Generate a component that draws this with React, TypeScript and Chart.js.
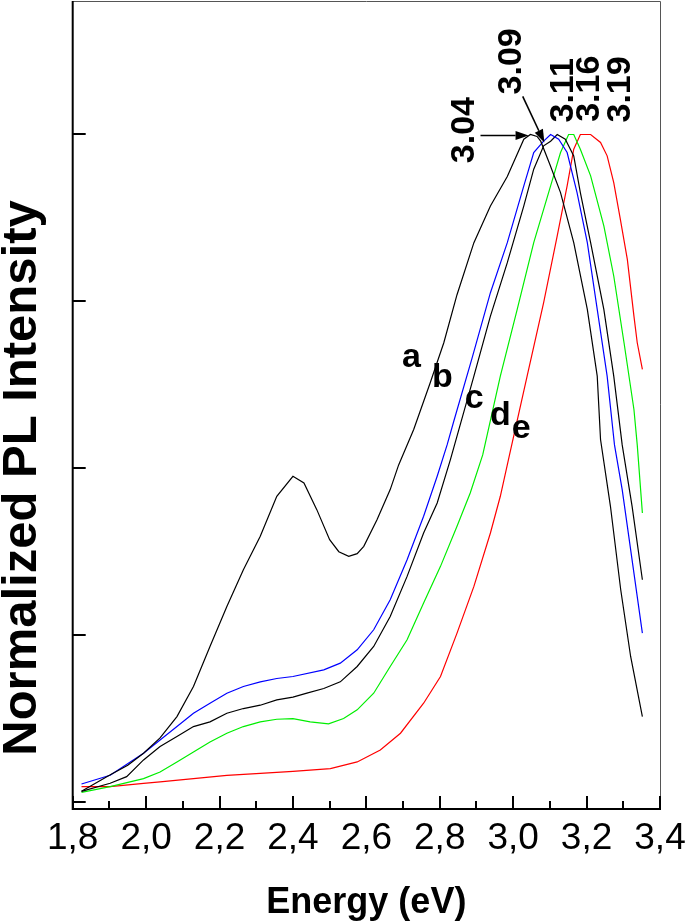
import React, { useEffect, useRef } from 'react';
import { Chart, registerables } from 'chart.js';

Chart.register(...registerables);

// ---- axis ticks ----
const xMajorTicks = [1.8, 2.0, 2.2, 2.4, 2.6, 2.8, 3.0, 3.2, 3.4];
const xMinorTicks = [1.9, 2.1, 2.3, 2.5, 2.7, 2.9, 3.1, 3.3];
const yTicks = [0, 0.25, 0.5, 0.75, 1.0];

// ---- series (energy in eV, normalized intensity) ----
const energyA = [1.824, 1.9, 1.95, 1.993, 2.038, 2.084, 2.129, 2.174, 2.22, 2.265, 2.311, 2.356, 2.4, 2.43, 2.465, 2.5, 2.525, 2.552, 2.575, 2.593, 2.629, 2.665, 2.688, 2.729, 2.774, 2.811, 2.847, 2.893, 2.938, 2.984, 3.029, 3.047, 3.065, 3.075, 3.1, 3.129, 3.165, 3.202, 3.229, 3.238, 3.265, 3.293, 3.32, 3.352];
const intensityA = [0.016, 0.04, 0.055, 0.073, 0.096, 0.128, 0.173, 0.233, 0.293, 0.348, 0.398, 0.458, 0.488, 0.478, 0.438, 0.393, 0.375, 0.368, 0.372, 0.383, 0.423, 0.468, 0.505, 0.558, 0.628, 0.688, 0.76, 0.838, 0.893, 0.937, 0.993, 1.0, 0.997, 0.99, 0.955, 0.913, 0.838, 0.738, 0.638, 0.543, 0.443, 0.318, 0.218, 0.128];

const energyB = [1.824, 1.902, 1.993, 2.038, 2.084, 2.129, 2.174, 2.22, 2.265, 2.311, 2.356, 2.4, 2.484, 2.529, 2.575, 2.62, 2.665, 2.711, 2.756, 2.793, 2.82, 2.838, 2.888, 2.938, 2.984, 3.029, 3.056, 3.083, 3.102, 3.124, 3.147, 3.174, 3.202, 3.229, 3.256, 3.276, 3.297, 3.32, 3.352];
const intensityB = [0.027, 0.04, 0.073, 0.093, 0.113, 0.133, 0.148, 0.163, 0.173, 0.18, 0.185, 0.188, 0.198, 0.208, 0.228, 0.258, 0.303, 0.363, 0.428, 0.488, 0.535, 0.57, 0.665, 0.763, 0.838, 0.923, 0.973, 0.99, 1.0, 0.993, 0.973, 0.913, 0.838, 0.738, 0.638, 0.535, 0.468, 0.378, 0.253];

const energyC = [1.824, 1.902, 1.947, 1.993, 2.038, 2.084, 2.129, 2.174, 2.22, 2.265, 2.311, 2.356, 2.4, 2.438, 2.484, 2.529, 2.575, 2.62, 2.665, 2.711, 2.756, 2.793, 2.829, 2.893, 2.938, 2.984, 3.029, 3.056, 3.083, 3.102, 3.12, 3.142, 3.165, 3.183, 3.211, 3.247, 3.274, 3.297, 3.324, 3.352];
const intensityC = [0.016, 0.028, 0.038, 0.063, 0.083, 0.098, 0.113, 0.12, 0.133, 0.14, 0.145, 0.153, 0.157, 0.163, 0.17, 0.18, 0.203, 0.233, 0.278, 0.338, 0.403, 0.448, 0.513, 0.638, 0.728, 0.808, 0.893, 0.948, 0.983, 0.99, 1.0, 0.993, 0.968, 0.913, 0.838, 0.738, 0.638, 0.535, 0.443, 0.333];

const energyD = [1.824, 1.902, 1.993, 2.038, 2.084, 2.129, 2.174, 2.22, 2.265, 2.311, 2.356, 2.4, 2.447, 2.497, 2.538, 2.575, 2.62, 2.665, 2.711, 2.756, 2.802, 2.847, 2.883, 2.917, 2.965, 3.011, 3.056, 3.102, 3.129, 3.151, 3.165, 3.183, 3.211, 3.247, 3.274, 3.302, 3.329, 3.338, 3.352];
const intensityD = [0.0145, 0.023, 0.035, 0.045, 0.06, 0.075, 0.09, 0.103, 0.113, 0.12, 0.124, 0.125, 0.12, 0.117, 0.125, 0.138, 0.163, 0.203, 0.243, 0.298, 0.353, 0.413, 0.463, 0.52, 0.638, 0.738, 0.838, 0.923, 0.973, 1.0, 1.0, 0.978, 0.938, 0.863, 0.788, 0.688, 0.588, 0.535, 0.433];

const energyE = [1.824, 1.902, 1.993, 2.038, 2.129, 2.22, 2.311, 2.4, 2.502, 2.575, 2.638, 2.693, 2.756, 2.802, 2.847, 2.893, 2.938, 2.965, 2.99, 3.038, 3.083, 3.12, 3.147, 3.165, 3.183, 3.211, 3.238, 3.256, 3.274, 3.292, 3.311, 3.329, 3.338, 3.352];
const intensityE = [0.023, 0.023, 0.028, 0.03, 0.035, 0.04, 0.043, 0.046, 0.05, 0.06, 0.078, 0.103, 0.148, 0.188, 0.253, 0.323, 0.403, 0.458, 0.52, 0.638, 0.748, 0.848, 0.923, 0.978, 1.0, 1.0, 0.988, 0.968, 0.928, 0.873, 0.813, 0.728, 0.688, 0.648];

const seriesNames = ['a', 'b', 'c', 'd', 'e'];
const seriesColors = ['#000000', '#0000ff', '#000000', '#00ee00', '#ff0000'];

// ---- annotations (data coordinates) ----
const peakLabels = ['3.04', '3.09', '3.11', '3.16', '3.19'];
const peakLabelE = [2.894, 3.02, 3.162, 3.233, 3.317];
const peakLabelI = [0.957, 1.06, 1.018, 1.019, 1.018];

const curveLabelE = [2.7226, 2.807, 2.894, 2.965, 3.022];
const curveLabelI = [0.652, 0.622, 0.59, 0.565, 0.546];

// arrows: [tailE, tailI, headE, headI]
const arrows = [
  [2.911, 0.9985, 3.042, 0.9985],
  [3.026, 1.057, 3.085, 0.988],
];

const FONT = '"Liberation Sans", Arial, Helvetica, sans-serif';

function pairs(xs: number[], ys: number[]) {
  return xs.map((x, i) => ({ x, y: ys[i] }));
}

const decorPlugin = {
  id: 'decor',
  afterDraw(chart: any) {
    const { ctx, chartArea, scales } = chart;
    const xs = scales.x;
    const ys = scales.y;
    const { left, right, top, bottom } = chartArea;
    ctx.save();
    // frame
    ctx.strokeStyle = '#555';
    ctx.lineWidth = 1;
    ctx.beginPath();
    ctx.moveTo(left, top + 0.5);
    ctx.lineTo(right + 0.5, top + 0.5);
    ctx.lineTo(right + 0.5, bottom);
    ctx.stroke();
    ctx.strokeStyle = '#000';
    ctx.lineWidth = 2;
    ctx.beginPath();
    ctx.moveTo(left, top);
    ctx.lineTo(left, bottom + 1);
    ctx.lineTo(right + 1, bottom + 1);
    ctx.stroke();
    // inward ticks
    ctx.lineWidth = 2;
    ctx.beginPath();
    xMajorTicks.forEach((v) => {
      const px = Math.round(xs.getPixelForValue(v));
      ctx.moveTo(px, bottom);
      ctx.lineTo(px, bottom - 12);
    });
    xMinorTicks.forEach((v) => {
      const px = Math.round(xs.getPixelForValue(v));
      ctx.moveTo(px, bottom);
      ctx.lineTo(px, bottom - 7);
    });
    yTicks.forEach((v) => {
      const py = Math.round(ys.getPixelForValue(v));
      ctx.moveTo(left, py);
      ctx.lineTo(left + 13, py);
    });
    ctx.stroke();

    // peak labels (rotated)
    ctx.fillStyle = '#000';
    ctx.font = `bold 34px ${FONT}`;
    ctx.textAlign = 'left';
    ctx.textBaseline = 'alphabetic';
    peakLabels.forEach((t, i) => {
      const px = xs.getPixelForValue(peakLabelE[i]);
      const py = ys.getPixelForValue(peakLabelI[i]);
      ctx.save();
      ctx.translate(px, py);
      ctx.rotate(-Math.PI / 2);
      ctx.fillText(t, 0, 0);
      ctx.restore();
    });

    // curve letters
    ctx.textAlign = 'center';
    seriesNames.forEach((t, i) => {
      const px = xs.getPixelForValue(curveLabelE[i]);
      const py = ys.getPixelForValue(curveLabelI[i]);
      ctx.fillText(t, px, py);
    });

    // arrows
    arrows.forEach(([e0, i0, e1, i1]) => {
      const x0 = xs.getPixelForValue(e0);
      const y0 = ys.getPixelForValue(i0);
      const x1 = xs.getPixelForValue(e1);
      const y1 = ys.getPixelForValue(i1);
      const ang = Math.atan2(y1 - y0, x1 - x0);
      const hl = 13;
      const hw = 4.5;
      ctx.strokeStyle = '#000';
      ctx.lineWidth = 1.6;
      ctx.beginPath();
      ctx.moveTo(x0, y0);
      ctx.lineTo(x1 - hl * Math.cos(ang), y1 - hl * Math.sin(ang));
      ctx.stroke();
      ctx.beginPath();
      ctx.moveTo(x1, y1);
      ctx.lineTo(x1 - hl * Math.cos(ang) + hw * Math.sin(ang), y1 - hl * Math.sin(ang) - hw * Math.cos(ang));
      ctx.lineTo(x1 - hl * Math.cos(ang) - hw * Math.sin(ang), y1 - hl * Math.sin(ang) + hw * Math.cos(ang));
      ctx.closePath();
      ctx.fill();
    });

    // y-axis title
    ctx.font = `bold 49px ${FONT}`;
    ctx.textAlign = 'center';
    ctx.textBaseline = 'alphabetic';
    ctx.save();
    ctx.translate(36, 478);
    ctx.rotate(-Math.PI / 2);
    ctx.fillText('Normalized PL Intensity', 0, 0);
    ctx.restore();

    ctx.restore();
  },
};

export default function App() {
  const ref = useRef<HTMLCanvasElement | null>(null);
  useEffect(() => {
    if (!ref.current) return;
    const series = [
      pairs(energyA, intensityA),
      pairs(energyB, intensityB),
      pairs(energyC, intensityC),
      pairs(energyD, intensityD),
      pairs(energyE, intensityE),
    ];
    const chart = new Chart(ref.current, {
      type: 'line',
      data: {
        datasets: series.map((d, i) => ({
          label: seriesNames[i],
          data: d,
          borderColor: seriesColors[i],
          borderWidth: 1.2,
          pointRadius: 0,
          tension: 0,
          fill: false,
        })),
      },
      options: {
        responsive: false,
        animation: false,
        devicePixelRatio: 1,
        layout: { padding: { top: 1, right: 25, left: 0, bottom: 0 } },
        plugins: { legend: { display: false }, tooltip: { enabled: false } },
        scales: {
          x: {
            type: 'linear',
            min: 1.8,
            max: 3.4,
            grid: { display: false, drawTicks: false },
            border: { display: false },
            afterBuildTicks: (s: any) => {
              s.ticks = xMajorTicks.map((v) => ({ value: v }));
            },
            afterFit: (s: any) => {
              s.height = 114;
              s.paddingLeft = 0;
              s.paddingRight = 0;
            },
            ticks: {
              autoSkip: false,
              maxRotation: 0,
              minRotation: 0,
              padding: 9,
              color: '#000',
              font: { family: FONT, size: 37 },
              callback: (v: any) => Number(v).toFixed(1).replace('.', ','),
            },
            title: {
              display: true,
              text: 'Energy (eV)',
              color: '#000',
              font: { family: FONT, size: 36, weight: 'bold', lineHeight: 1 },
              padding: { top: 0, bottom: 1 },
            },
          },
          y: {
            type: 'linear',
            min: -0.009,
            max: 1.2,
            grid: { display: false, drawTicks: false },
            border: { display: false },
            ticks: { display: false },
            afterBuildTicks: (s: any) => {
              s.ticks = yTicks.map((v) => ({ value: v }));
            },
            afterFit: (s: any) => {
              s.width = 72.7;
              s.paddingTop = 0;
              s.paddingBottom = 0;
            },
          },
        },
      },
      plugins: [decorPlugin],
    });
    return () => chart.destroy();
  }, []);
  return (
    <div style={{ position: 'absolute', left: 0, top: 0, width: 685, height: 922, background: '#fff' }}>
      <canvas ref={ref} width={685} height={922} style={{ display: 'block', width: 685, height: 922 }} />
    </div>
  );
}
